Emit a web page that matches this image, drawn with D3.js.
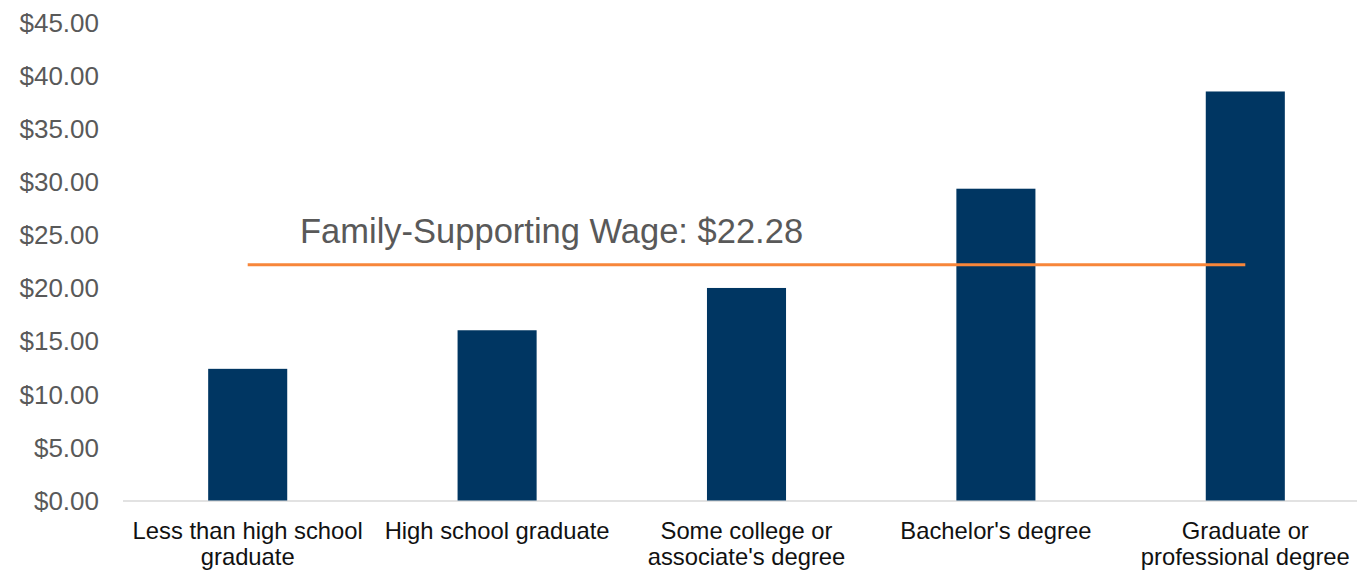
<!DOCTYPE html>
<html><head><meta charset="utf-8">
<script src="https://cdn.jsdelivr.net/npm/d3@7"></script>
<style>html,body{margin:0;padding:0;background:#fff;overflow:hidden}</style>
</head><body>
<svg id="c" width="1357" height="571"></svg>
<script>
const categories = [
  ["Less than high school", "graduate"],
  ["High school graduate"],
  ["Some college or", "associate's degree"],
  ["Bachelor's degree"],
  ["Graduate or", "professional degree"]
];
const wages = [12.39, 16.02, 20.0, 29.34, 38.49];
const yTicks = [0, 5, 10, 15, 20, 25, 30, 35, 40, 45];
const familyWage = 22.28;
const familyLabel = "Family-Supporting Wage: $22.28";

const svg = d3.select("#c");
const keys = categories.map(d => d.join(" "));
const x = d3.scaleBand().domain(keys).range([123, 1370]).paddingInner(0.683).paddingOuter(0.3415);
const y = d3.scaleLinear().domain([0, 45]).range([500.5, 22.3]);

// y axis labels
svg.append("g").selectAll("text").data(yTicks).join("text")
  .attr("x", 99).attr("y", d => y(d)).attr("dy", "0.36em")
  .attr("text-anchor", "end")
  .attr("font-family", "Liberation Sans, Arial, sans-serif")
  .attr("font-size", 26).attr("fill", "#595959")
  .text(d => "$" + d3.format(".2f")(d));

// baseline
svg.append("line").attr("x1", 123).attr("x2", 1370)
  .attr("y1", y(0) + 0.5).attr("y2", y(0) + 0.5)
  .attr("stroke", "#d9d9d9").attr("stroke-width", 1.5);

// bars
svg.append("g").selectAll("rect").data(wages).join("rect")
  .attr("x", (d, i) => x(keys[i]))
  .attr("width", x.bandwidth())
  .attr("y", d => y(d))
  .attr("height", d => y(0) - y(d))
  .attr("fill", "#003662");

// family-supporting wage line
svg.append("line")
  .attr("x1", x(keys[0]) + x.bandwidth() / 2)
  .attr("x2", x(keys[keys.length - 1]) + x.bandwidth() / 2)
  .attr("y1", y(familyWage) + 1).attr("y2", y(familyWage) + 1)
  .attr("stroke", "#f7863a").attr("stroke-width", 3);

svg.append("text")
  .attr("x", 300).attr("y", 243)
  .attr("font-family", "Liberation Sans, Arial, sans-serif")
  .attr("font-size", 34.5).attr("fill", "#595959")
  .text(familyLabel);

// category labels
const cat = svg.append("g").selectAll("text").data(categories).join("text")
  .attr("text-anchor", "middle")
  .attr("font-family", "Liberation Sans, Arial, sans-serif")
  .attr("font-size", 23.8).attr("fill", "#111")
  .attr("transform", (d, i) => `translate(${x(keys[i]) + x.bandwidth() / 2},539)`);
cat.selectAll("tspan").data(d => d).join("tspan")
  .attr("x", 0).attr("y", (d, i) => i * 26)
  .text(d => d);
</script>
</body></html>
